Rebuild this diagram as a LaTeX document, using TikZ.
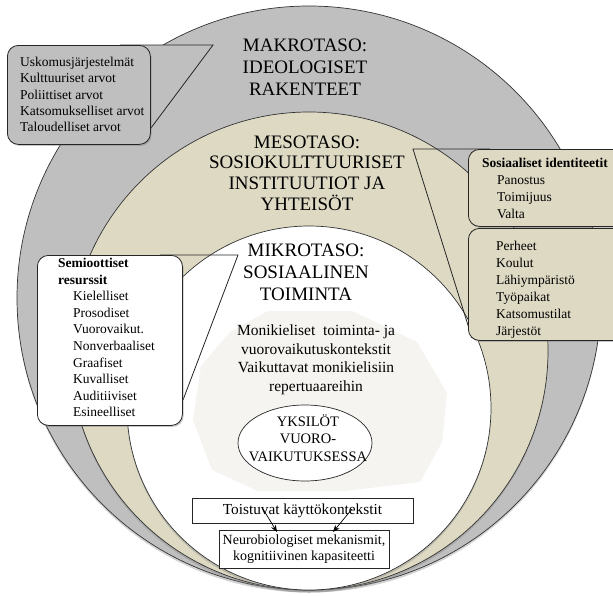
\documentclass[tikz,border=0pt]{standalone}
\usepackage{fontspec}
\setmainfont{Liberation Serif}
\usetikzlibrary{shadows,arrows.meta,shapes.geometric}
\definecolor{ringgray}{HTML}{BFBFBF}
\definecolor{beige}{HTML}{DDD9C3}
\definecolor{pale}{HTML}{F5F4F0}
\begin{document}
\begin{tikzpicture}[x=1pt,y=-1pt,
  ringc/.style={circle, draw=black!80, line width=0.7pt, inner sep=0pt,
    drop shadow={shadow xshift=0pt, shadow yshift=-2.5pt, opacity=0.35}},
  title/.style={align=center, font=\fontsize{19}{22}\selectfont, inner sep=0pt},
  callbox/.style={draw=black!85, line width=0.8pt, rounded corners=11pt, inner sep=0pt,
    anchor=north west, drop shadow={shadow xshift=1.2pt, shadow yshift=-1.5pt, opacity=0.45}},
  listtxt/.style={align=left, inner sep=0pt, anchor=north west},
  plainbox/.style={draw=black!85, line width=0.7pt, fill=white, inner sep=0pt},
  wedge/.style={draw=black!85, line width=0.8pt},
  arr/.style={-{Stealth[length=7pt,width=5.5pt]}, line width=0.7pt}
]
\useasboundingbox (0,0) rectangle (613,595);
\clip (0,0) rectangle (613,595);

% rings
\node[ringc, fill=ringgray, minimum size=584pt] (makro) at (309,298) {};
\node[ringc, fill=beige, minimum size=478pt] (meso) at (309,351) {};
\node[ringc, fill=white, minimum size=364pt] (mikro) at (309,408) {};

% pale polygon
\fill[pale] (268,311) -- (352,311) -- (417,342) -- (447,393) -- (442,442) -- (420,482)
  -- (345,491) -- (258,491) -- (212,470) -- (193,420) -- (201,366) -- (230,332) -- cycle;

% titles
\node[title] (t1) at (305,67) {MAKROTASO:\\IDEOLOGISET\\RAKENTEET};
\node[title, font=\fontsize{19}{20.8}\selectfont] (t2) at (307,173) {MESOTASO:\\SOSIOKULTTUURISET\\INSTITUUTIOT JA\\YHTEISÖT};
\node[title] (t3) at (306,272) {MIKROTASO:\\SOSIAALINEN\\TOIMINTA};

% centre text
\node[align=center, inner sep=0pt, font=\fontsize{15.5}{18.5}\selectfont] (ctx) at (316,360)
  {Monikieliset\ \ toiminta- ja\\vuorovaikutuskontekstit\\Vaikuttavat monikielisiin\\repertuaareihin};

% ellipse
\node[ellipse, draw=black!85, line width=0.7pt, fill=white, minimum width=134pt, minimum height=76pt, inner sep=0pt] (yk) at (305,443) {};
\node[align=center, inner sep=0pt, font=\fontsize{14.5}{17.5}\selectfont] (yktxt) at (308,438)
  {YKSILÖT\\VUORO-\\VAIKUTUKSESSA};

% bottom boxes
\node[plainbox, minimum width=221pt, minimum height=25pt, font=\fontsize{15.3}{18}\selectfont] (toist) at (302.5,510.5) {Toistuvat käyttökontekstit};
\node[plainbox, minimum width=170pt, minimum height=38pt, align=center, font=\fontsize{14}{16.5}\selectfont] (neuro) at (304,549)
  {Neurobiologiset mekanismit,\\kognitiivinen kapasiteetti};
\coordinate (a1s) at (263,509);
\coordinate (a1e) at (277,532);
\coordinate (a2s) at (352,509);
\coordinate (a2e) at (333,532);
\draw[arr] (a1s) -- (a1e);
\draw[arr] (a2s) -- (a2e);

% top-left callout
\coordinate (w1a) at (120,45);
\coordinate (w1t) at (213,45);
\coordinate (w1b) at (148,132);
\draw[wedge, fill=ringgray] (w1a) -- (w1t) -- (w1b);
\node[callbox, fill=ringgray, minimum width=143pt, minimum height=99pt] (makrobox) at (7,45) {};
\node[listtxt, font=\fontsize{13.5}{16.3}\selectfont] (makrotxt) at (20,57)
  {Uskomusjärjestelmät\\Kulttuuriset arvot\\Poliittiset arvot\\Katsomukselliset arvot\\Taloudelliset arvot};

% right callouts
\coordinate (w2a) at (490,149);
\coordinate (w2t) at (413,149);
\coordinate (w2b) at (472,338);
\draw[wedge] (w2a) -- (w2t) -- (w2b);
\node[callbox, fill=beige, minimum width=165pt, minimum height=112pt] (mesobox2) at (468,228) {};
\node[callbox, fill=beige, minimum width=165pt, minimum height=77pt] (mesobox1) at (468,149) {};
\node[listtxt, font=\fontsize{13.5}{17}\selectfont] (mesotxt1) at (482,158)
  {\textbf{Sosiaaliset identiteetit}\\\hspace*{15pt}Panostus\\\hspace*{15pt}Toimijuus\\\hspace*{15pt}Valta};
\node[listtxt, font=\fontsize{13.5}{17}\selectfont] (mesotxt2) at (496,241)
  {Perheet\\Koulut\\Lähiympäristö\\Työpaikat\\Katsomustilat\\Järjestöt};

% left callout
\coordinate (w3a) at (160,255);
\coordinate (w3t) at (238,255);
\coordinate (w3b) at (183,400);
\draw[wedge] (w3a) -- (w3t) -- (w3b);
\node[callbox, fill=white, minimum width=145pt, minimum height=170pt] (mikrobox) at (37,255) {};
\node[listtxt, font=\fontsize{13.5}{16.6}\selectfont] (mikrotxt) at (58,258)
  {\textbf{Semioottiset}\\\textbf{resurssit}\\\hspace*{15pt}Kielelliset\\\hspace*{15pt}Prosodiset\\\hspace*{15pt}Vuorovaikut.\\\hspace*{15pt}Nonverbaaliset\\\hspace*{15pt}Graafiset\\\hspace*{15pt}Kuvalliset\\\hspace*{15pt}Auditiiviset\\\hspace*{15pt}Esineelliset};
\end{tikzpicture}
\end{document}
